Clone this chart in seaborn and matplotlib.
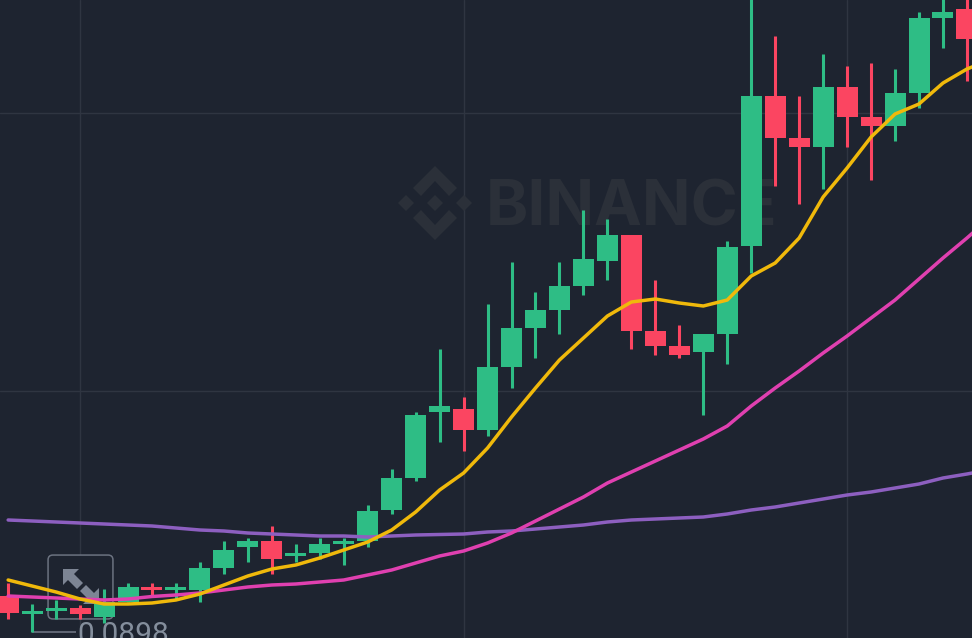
import numpy as np
import pandas as pd
import matplotlib.pyplot as plt
import seaborn as sns
from matplotlib.patches import FancyBboxPatch, Polygon

# candle data, price units (last candle sits just past the right edge)
opens = [0.09124, 0.09052, 0.09064, 0.09076, 0.09040, 0.09100, 0.09160, 0.09148, 0.09148, 0.09236, 0.09320,
         0.09344, 0.09284, 0.09296, 0.09332, 0.09344, 0.09468, 0.09596, 0.09860, 0.09872, 0.09788, 0.10040,
         0.10196, 0.10268, 0.10364, 0.10464, 0.10568, 0.10184, 0.10124, 0.10100, 0.10172, 0.10524, 0.11124,
         0.10956, 0.10920, 0.11160, 0.11040, 0.11004, 0.11136, 0.11436, 0.11472, 0.11352]
highs = [0.09176, 0.09092, 0.09108, 0.09088, 0.09152, 0.09176, 0.09176, 0.09176, 0.09260, 0.09344, 0.09356,
         0.09404, 0.09332, 0.09356, 0.09356, 0.09488, 0.09632, 0.09860, 0.10112, 0.09920, 0.10292, 0.10460,
         0.10340, 0.10460, 0.10668, 0.10632, 0.10568, 0.10388, 0.10208, 0.10172, 0.10544, 0.11530, 0.11364,
         0.11124, 0.11292, 0.11244, 0.11256, 0.11232, 0.11460, 0.11530, 0.11530, 0.11420]
lows = [0.09032, 0.08980, 0.09032, 0.09032, 0.09016, 0.09100, 0.09124, 0.09112, 0.09100, 0.09212, 0.09260,
        0.09212, 0.09260, 0.09272, 0.09248, 0.09320, 0.09452, 0.09584, 0.09740, 0.09704, 0.09764, 0.09956,
        0.10076, 0.10172, 0.10328, 0.10388, 0.10112, 0.10088, 0.10076, 0.09848, 0.10052, 0.10416, 0.10764,
        0.10692, 0.10752, 0.10920, 0.10788, 0.10944, 0.11076, 0.11316, 0.11184, 0.11300]
closes = [0.09056, 0.09064, 0.09076, 0.09052, 0.09100, 0.09160, 0.09148, 0.09160, 0.09236, 0.09308, 0.09344,
          0.09272, 0.09296, 0.09332, 0.09344, 0.09464, 0.09596, 0.09848, 0.09884, 0.09788, 0.10040, 0.10196,
          0.10268, 0.10364, 0.10472, 0.10568, 0.10184, 0.10124, 0.10088, 0.10172, 0.10520, 0.11124, 0.10956,
          0.10920, 0.11160, 0.11040, 0.11004, 0.11136, 0.11436, 0.11460, 0.11352, 0.11400]

# moving averages
ma7 = [0.09188, 0.09164, 0.09140, 0.09112, 0.09092, 0.09092, 0.09096, 0.09108, 0.09132, 0.09168, 0.09204,
       0.09232, 0.09248, 0.09276, 0.09308, 0.09340, 0.09388, 0.09460, 0.09548, 0.09616, 0.09716, 0.09840,
       0.09956, 0.10068, 0.10156, 0.10244, 0.10300, 0.10312, 0.10296, 0.10284, 0.10308, 0.10404, 0.10456,
       0.10556, 0.10720, 0.10836, 0.10960, 0.11052, 0.11092, 0.11176, 0.11232, 0.11270]
ma25 = [0.09124, 0.09120, 0.09116, 0.09112, 0.09108, 0.09112, 0.09122, 0.09128, 0.09136, 0.09148, 0.09160,
        0.09168, 0.09172, 0.09180, 0.09188, 0.09208, 0.09228, 0.09256, 0.09284, 0.09304, 0.09336, 0.09376,
        0.09424, 0.09472, 0.09520, 0.09576, 0.09620, 0.09664, 0.09708, 0.09752, 0.09804, 0.09884, 0.09956,
        0.10024, 0.10096, 0.10164, 0.10236, 0.10308, 0.10392, 0.10476, 0.10556, 0.10640]
ma99 = [0.09428, 0.09424, 0.09420, 0.09416, 0.09412, 0.09408, 0.09404, 0.09396, 0.09388, 0.09384, 0.09376,
        0.09372, 0.09368, 0.09364, 0.09364, 0.09360, 0.09364, 0.09368, 0.09370, 0.09372, 0.09380, 0.09384,
        0.09392, 0.09400, 0.09408, 0.09420, 0.09428, 0.09432, 0.09436, 0.09440, 0.09452, 0.09468, 0.09480,
        0.09496, 0.09512, 0.09528, 0.09540, 0.09556, 0.09572, 0.09596, 0.09612, 0.09630]

grid_prices = [0.11056, 0.09944]
grid_candles = [3, 19, 35]

BG = '#1e2430'
GRID = '#2f3541'
UP = '#2ebd85'
DOWN = '#fb4561'
LABEL = '#848e9c'
EDGE = '#6b7280'

W, H = 972, 638


def px(x, y):
    # picture pixels to axes fractions, for the overlay items only
    return x / W, 1 - y / H


sns.set_theme(style='dark', rc={'axes.facecolor': BG, 'figure.facecolor': BG})
plt.rcParams['font.family'] = ['Roboto', 'Liberation Sans', 'DejaVu Sans']

df = pd.DataFrame({'i': np.arange(len(opens)), 'open': opens, 'high': highs, 'low': lows, 'close': closes,
                   'ma7': ma7, 'ma25': ma25, 'ma99': ma99})

fig, ax = plt.subplots(figsize=(9.72, 6.38), dpi=100)
fig.subplots_adjust(left=0, right=1, bottom=0, top=1)

# grid
for g in grid_prices:
    ax.axhline(g, color=GRID, lw=1, zorder=1)
for g in grid_candles:
    ax.axvline(g, color=GRID, lw=1, zorder=1)

# watermark
wm = '#2b3039'
logo = [[(435, 166), (457, 188), (449, 196), (435, 181), (421, 196), (413, 188)],
        [(435, 240), (457, 218), (449, 210), (435, 225), (421, 210), (413, 218)],
        [(406, 195), (414, 203), (406, 211), (398, 203)],
        [(464, 195), (472, 203), (464, 211), (456, 203)],
        [(435, 195), (443, 203), (435, 211), (427, 203)]]
for pts in logo:
    ax.add_patch(Polygon([px(*p) for p in pts], closed=True, transform=ax.transAxes, fc=wm, ec='none', zorder=1.1))
ax.text(*px(486, 225), 'BINANCE', transform=ax.transAxes, color=wm, fontsize=46, fontweight='bold',
        ha='left', va='baseline', zorder=1.1, family=['Inter', 'DejaVu Sans'])

# expand button
ax.add_patch(FancyBboxPatch(px(50, 617), 61 / W, 60 / H, transform=ax.transAxes, fc=BG, ec=EDGE, lw=1.1,
                            boxstyle='round,pad=0.002,rounding_size=0.005', mutation_aspect=W / H, zorder=1.2))
nw = [(63, 569), (79, 569), (74, 574), (83, 583), (77, 589), (68, 580), (63, 585)]
se = [(99, 604), (83, 604), (88, 599), (80, 591), (86, 585), (94, 593), (99, 588)]
for pts in (nw, se):
    ax.add_patch(Polygon([px(*p) for p in pts], closed=True, transform=ax.transAxes, fc='#7d8594', ec='none', zorder=1.3))

# candles
colors = [UP if c >= o else DOWN for o, c in zip(opens, closes)]
ax.vlines(df['i'], df['low'], df['high'], colors=colors, lw=2.2, zorder=2)
ax.bar(df['i'], (df['close'] - df['open']).abs(), bottom=df[['open', 'close']].min(axis=1), width=0.876,
       color=colors, lw=0, zorder=2.1)

# moving averages
sns.lineplot(data=df, x='i', y='ma99', color='#8d5fc0', lw=2.5, ax=ax, zorder=3)
sns.lineplot(data=df, x='i', y='ma25', color='#e040b0', lw=2.5, ax=ax, zorder=3.1)
sns.lineplot(data=df, x='i', y='ma7', color='#f0b90b', lw=2.5, ax=ax, zorder=3.2)

# low marker, label is cut by the bottom edge as in the screenshot
low_i = int(np.argmin(lows))
ax.hlines(min(lows), low_i, low_i + 1.85, color=EDGE, lw=1.2, zorder=1.9)
ax.text(low_i + 1.88, min(lows) - 0.00044, f'{min(lows):.4f}', color=LABEL, fontsize=21.5, va='baseline', ha='left',
        zorder=4)

ax.set_xlim(-0.34, 40.21)
ax.set_ylim(0.11508 - 638 * 0.00004, 0.11508)
ax.set_xlabel('')
ax.set_ylabel('')
ax.set_xticks([])
ax.set_yticks([])
for s in ax.spines.values():
    s.set_visible(False)

fig.savefig('out.png', dpi=100, facecolor=BG)
